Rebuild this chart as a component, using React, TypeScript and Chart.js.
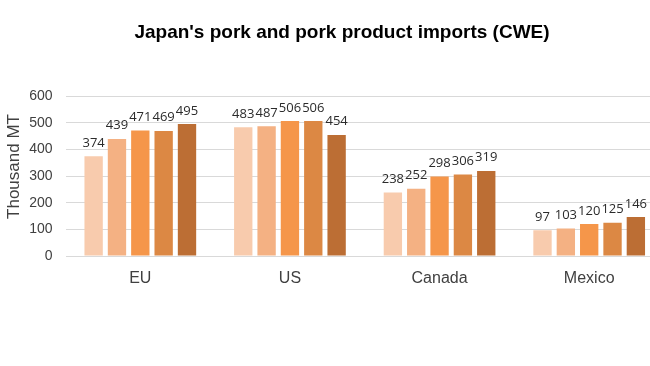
import React, { useEffect, useRef } from "react";
import { Chart, registerables } from "chart.js";

Chart.register(...registerables);

const categories = ["EU", "US", "Canada", "Mexico"];
const seriesNames = ["Series 1", "Series 2", "Series 3", "Series 4", "Series 5"];
const series1 = [374, 483, 238, 97];
const series2 = [439, 487, 252, 103];
const series3 = [471, 506, 298, 120];
const series4 = [469, 506, 306, 125];
const series5 = [495, 454, 319, 146];
const seriesColors = ["#F8CBAD", "#F4B183", "#F5964A", "#DC8844", "#BC6E34"];
const yTicks = [0, 100, 200, 300, 400, 500, 600];
const chartTitle = "Japan's pork and pork product imports (CWE)";
const yAxisTitle = "Thousand MT";

const valueLabels = {
  id: "valueLabels",
  afterDatasetsDraw(chart: any) {
    const ctx = chart.ctx;
    ctx.save();
    ctx.font = "13px 'Open Sans'";
    ctx.fillStyle = "#2b2b2b";
    ctx.textAlign = "center";
    ctx.textBaseline = "alphabetic";
    chart.data.datasets.forEach((ds: any, i: number) => {
      const meta = chart.getDatasetMeta(i);
      meta.data.forEach((bar: any, j: number) => {
        ctx.fillText(String(ds.data[j]), bar.x, bar.y - 9.5);
      });
    });
    ctx.restore();
  },
};

const titles = {
  id: "titles",
  afterDraw(chart: any) {
    const ctx = chart.ctx;
    ctx.save();
    ctx.fillStyle = "#000000";
    ctx.font = "bold 19px 'Liberation Sans', Arial";
    ctx.textAlign = "center";
    ctx.textBaseline = "middle";
    ctx.fillText(chartTitle, 342, 33);
    ctx.translate(14.5, 166.5);
    ctx.rotate(-Math.PI / 2);
    ctx.fillStyle = "#404040";
    ctx.font = "17px 'Liberation Sans', Arial";
    ctx.fillText(yAxisTitle, 0, 0);
    ctx.restore();
  },
};

export default function App() {
  const ref = useRef<HTMLCanvasElement>(null);
  useEffect(() => {
    if (!ref.current) return;
    const all = [series1, series2, series3, series4, series5];
    const chart = new Chart(ref.current, {
      type: "bar",
      data: {
        labels: categories,
        datasets: all.map((d, i) => ({
          label: seriesNames[i],
          data: d,
          backgroundColor: seriesColors[i],
          categoryPercentage: 0.78,
          barPercentage: 0.786,
        })),
      },
      options: {
        animation: false,
        responsive: false,
        devicePixelRatio: 1,
        layout: { padding: { left: 0, right: 20, top: 96, bottom: 0 } },
        plugins: {
          legend: { display: false },
          tooltip: { enabled: false },
          title: { display: false },
        },
        scales: {
          x: {
            grid: { display: false },
            border: { display: false },
            ticks: {
              color: "#404040",
              font: { family: "'Liberation Sans', Arial", size: 16 },
              padding: 5,
            },
            afterFit: (s: any) => {
              s.height = 110;
            },
          },
          y: {
            min: 0,
            max: 600,
            afterBuildTicks: (s: any) => {
              s.ticks = yTicks.map((v) => ({ value: v }));
            },
            grid: { color: "#D9D9D9", lineWidth: 1, drawTicks: false },
            border: { display: false },
            ticks: {
              color: "#404040",
              font: { family: "'Liberation Sans', Arial", size: 14 },
              padding: 13,
            },
            afterFit: (s: any) => {
              s.width = 65.5;
            },
          },
        },
      },
      plugins: [valueLabels, titles],
    });
    return () => chart.destroy();
  }, []);
  return (
    <div
      style={{
        position: "fixed",
        left: 0,
        top: 0,
        width: 650,
        height: 366,
        overflow: "hidden",
        background: "#ffffff",
      }}
    >
      <canvas ref={ref} width={684} height={366} style={{ width: 684, height: 366, display: "block" }} />
    </div>
  );
}
